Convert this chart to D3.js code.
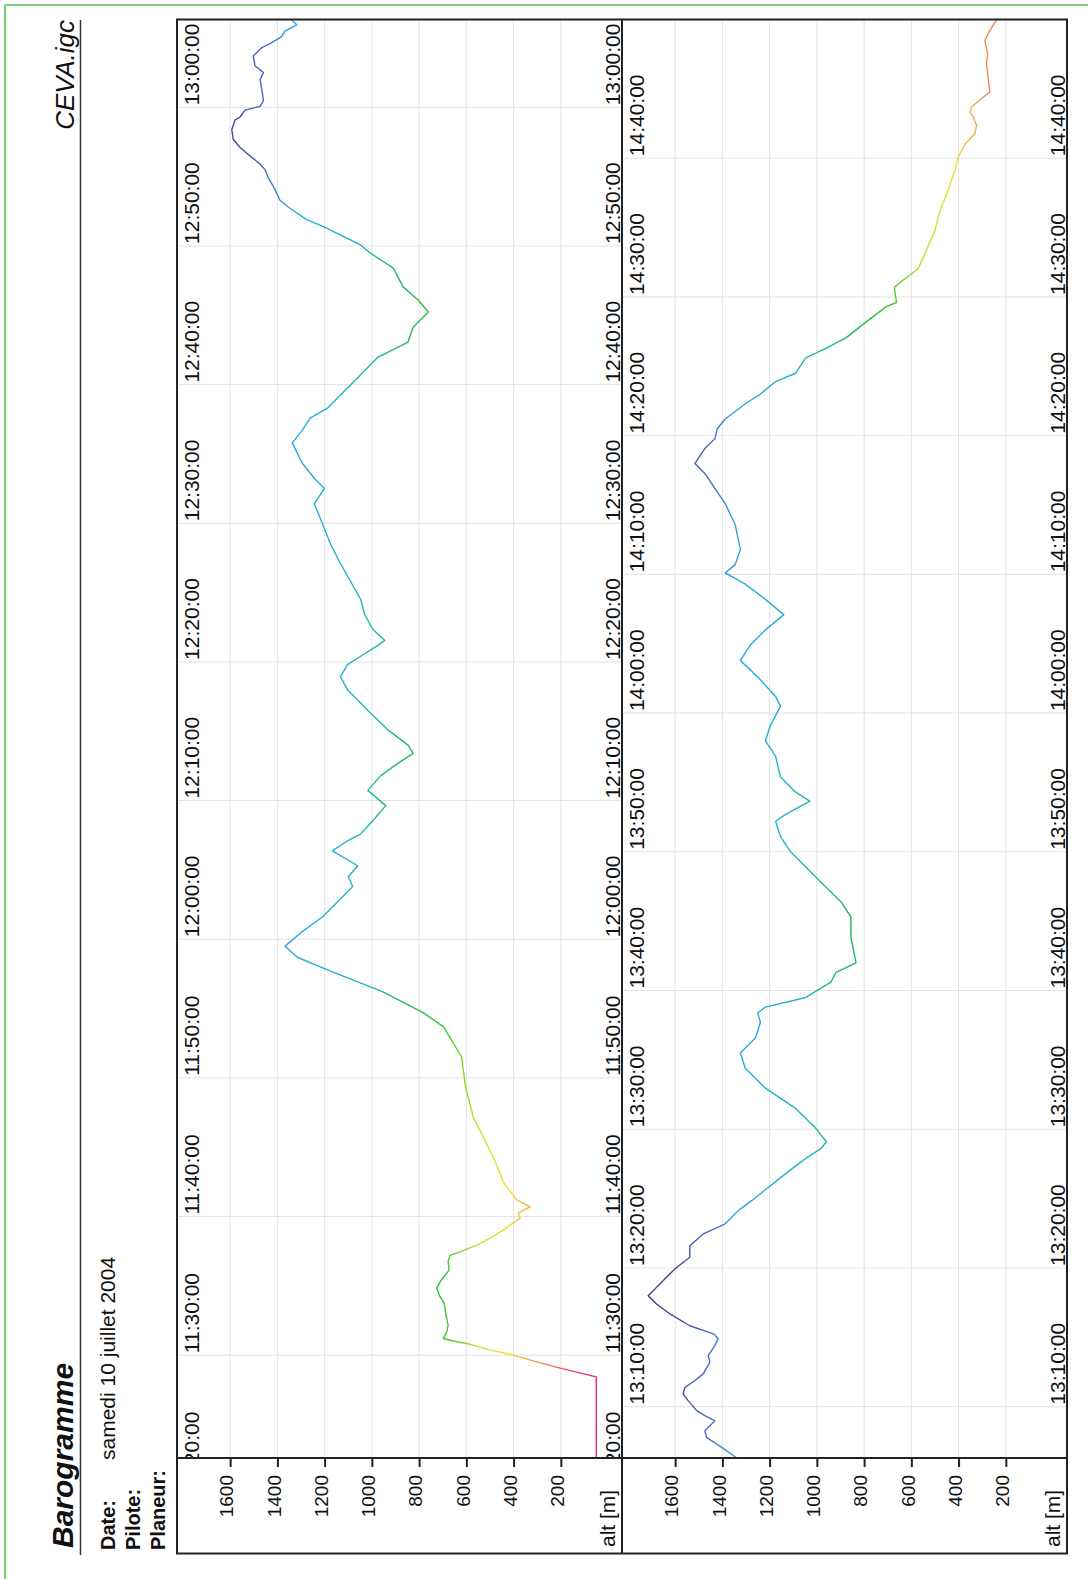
<!DOCTYPE html>
<html><head><meta charset="utf-8">
<script src="https://cdn.jsdelivr.net/npm/d3@7"></script>
<style>
html,body{margin:0;padding:0;background:#fff;}
svg{display:block;}
text{font-family:"Liberation Sans",Arial,sans-serif;fill:#111;}
</style></head><body>
<svg id="c" width="1088" height="1579"></svg>
<script>
// ---------- data ----------
const titleText = "Barogramme";
const fileName = "CEVA.igc";
const infoLabels = ["Date:", "Pilote:", "Planeur:"];
const infoValues = ["samedi 10 juillet 2004", "", ""];
const altTicks = [200, 400, 600, 800, 1000, 1200, 1400, 1600];
const altLabel = "alt [m]";
const flightDate = "2004-07-10";
const panelStarts = ["11:22:35", "13:06:18"];
const panelEnds = ["13:06:20", "14:50:00"];

const times = [
"11:22:35","11:28:26","11:29:04","11:29:31","11:30:04","11:30:22","11:30:47","11:30:58","11:31:12","11:31:41",
"11:32:10","11:32:53","11:33:45","11:34:12","11:34:50","11:35:17","11:35:46","11:36:08","11:36:44","11:37:12",
"11:37:27","11:37:56","11:38:26","11:39:01","11:39:23","11:39:53","11:40:15","11:40:42","11:41:11","11:42:24",
"11:44:12","11:45:42","11:47:06","11:49:18","11:51:30","11:53:42","11:54:42","11:56:12","11:57:39","11:58:42",
"11:59:30","12:00:33","12:01:36","12:02:42","12:03:48","12:04:30","12:05:18","12:06:22","12:07:06","12:07:36",
"12:08:33","12:09:38","12:10:44","12:11:48","12:12:42","12:13:24","12:14:00","12:15:06","12:16:30","12:18:00",
"12:18:56","12:19:48","12:20:30","12:21:03","12:21:33","12:22:21","12:23:24","12:24:30","12:25:48","12:27:06",
"12:28:30","12:30:21","12:31:24","12:32:30","12:33:15","12:34:21","12:35:48","12:36:42","12:37:36","12:38:18",
"12:39:24","12:40:30","12:41:58","12:42:42","12:43:04","12:44:09","12:45:14","12:46:06","12:47:03","12:48:24",
"12:49:30","12:50:06","12:51:24","12:51:54","12:52:42","12:53:18","12:54:18","12:54:54","12:55:30","12:55:54",
"12:56:30","12:57:06","12:57:42","12:58:24","12:59:06","12:59:18","12:59:48","13:00:04","13:00:30","13:01:18",
"13:02:00","13:02:30","13:03:00","13:03:42","13:04:18","13:04:36","13:05:06","13:05:30","13:05:57","13:06:18",
"13:07:04","13:07:47","13:08:16","13:08:30","13:08:59","13:09:21","13:09:43","13:10:26","13:10:55","13:11:23",
"13:11:52","13:12:22","13:13:12","13:13:41","13:14:24","13:14:53","13:15:14","13:15:50","13:16:41","13:17:24",
"13:18:00","13:18:36","13:19:12","13:19:56","13:20:46","13:21:36","13:22:27","13:23:10","13:23:32","13:24:08",
"13:24:51","13:26:48","13:27:54","13:28:36","13:29:06","13:30:04","13:31:30","13:32:58","13:34:24","13:35:30",
"13:36:36","13:37:42","13:38:24","13:38:48","13:39:30","13:40:36","13:41:18","13:42:00","13:43:51","13:45:18",
"13:46:24","13:47:48","13:48:54","13:50:00","13:51:06","13:52:12","13:52:42","13:53:39","13:54:18","13:55:24",
"13:56:54","13:58:00","13:59:06","14:00:30","14:01:12","14:02:24","14:03:48","14:04:54","14:06:00","14:07:06",
"14:08:12","14:09:18","14:10:06","14:10:42","14:11:48","14:13:36","14:15:06","14:17:15","14:18:00","14:19:06",
"14:19:48","14:20:30","14:21:12","14:22:18","14:23:00","14:23:54","14:24:30","14:25:36","14:26:18","14:27:03",
"14:28:12","14:29:18","14:29:36","14:30:42","14:31:06","14:32:02","14:33:06","14:34:48","14:36:12","14:37:42",
"14:39:06","14:40:04","14:41:00","14:41:46","14:42:22","14:42:58","14:43:18","14:43:42","14:44:18","14:44:46",
"14:45:50","14:46:48","14:47:30","14:48:30","14:49:12","14:50:00"
];
const alts = [
50,50,203,302,415,499,584,640,697,683,
677,686,694,711,725,711,690,673,677,669,
626,556,499,444,415,372,381,330,386,441,
484,527,569,603,620,697,783,953,1167,1316,
1367,1295,1209,1145,1081,1100,1060,1167,1103,1047,
996,941,1017,962,889,825,847,932,1017,1103,
1133,1103,1039,988,945,996,1030,1047,1090,1133,
1175,1218,1244,1201,1244,1295,1337,1295,1260,1188,
1124,1060,975,889,847,825,761,804,868,909,
1008,1050,1205,1276,1346,1389,1417,1438,1452,1473,
1516,1558,1587,1593,1579,1558,1537,1473,1459,1466,
1473,1459,1495,1502,1466,1431,1382,1368,1318,1339,
1403,1467,1474,1460,1432,1474,1509,1545,1566,1559,
1517,1481,1453,1460,1432,1418,1435,1538,1622,1679,
1714,1679,1644,1601,1538,1538,1481,1390,1368,1333,
1276,1132,1047,983,960,1004,1090,1218,1303,1324,
1260,1239,1250,1218,1047,941,919,834,856,856,
898,983,1047,1111,1154,1175,1132,1030,1090,1154,
1175,1218,1197,1154,1175,1239,1324,1282,1218,1140,
1218,1303,1388,1346,1324,1346,1388,1473,1516,1473,
1431,1422,1388,1303,1239,1175,1090,1047,962,877,
791,706,663,672,643,571,543,500,479,444,
416,402,373,331,324,338,352,345,303,268,
275,282,277,289,268,239
];

// colour of the trace by altitude
const colorAlts = [0, 150, 250, 330, 420, 550, 700, 850, 1000, 1200, 1330, 1450, 1600, 1750];
const colorHex = ["#e0206e","#ec4560","#f27a52","#f7a84a","#eee232","#c6e034","#34c234","#22b862","#22b8a8","#22b0d8","#32a6e6","#4a6cc8","#4548a0","#3c3090"];

// ---------- layout ----------
const W = 1088, H = 1579;
const plotTop = 19.5, plotBottom = 1458, frameBottom = 1553.5;
const panelLefts = [177, 622];
const panelW = 445;

const svg = d3.select("#c");
const parseT = d3.timeParse("%Y-%m-%d %H:%M:%S");
const toDate = s => parseT(flightDate + " " + s);
const fmt = d3.timeFormat("%H:%M:%S");
const data = times.map((t, i) => ({t: toDate(t), a: alts[i]}));

// page border (green, left & top)
svg.append("line").attr("x1",5).attr("y1",5).attr("x2",5).attr("y2",H).attr("stroke","#7acb7e").attr("stroke-width",2.2);
svg.append("line").attr("x1",5).attr("y1",5).attr("x2",W).attr("y2",5).attr("stroke","#7acb7e").attr("stroke-width",2.2);

// header (rotated)
function rtext(x, y, txt, opts) {
  const t = svg.append("text").attr("transform", `translate(${x},${y}) rotate(-90)`).text(txt);
  Object.entries(opts || {}).forEach(([k, v]) => t.attr(k, v));
  return t;
}
rtext(73, 1548, titleText, {"font-size": 30, "font-weight": "bold", "font-style": "italic", "fill": "#1a1a2a"});
rtext(74, 20, fileName, {"font-size": 26, "font-style": "italic", "text-anchor": "end", "fill": "#1a1a2a"});
svg.append("line").attr("x1",80.5).attr("x2",80.5).attr("y1",20).attr("y2",1555).attr("stroke","#333").attr("stroke-width",1.5);
infoLabels.forEach((l, i) => {
  rtext(115 + i * 25, 1550, l, {"font-size": 20, "font-weight": "bold"});
  if (infoValues[i]) rtext(115 + i * 25, 1460, infoValues[i], {"font-size": 21});
});

// gradient (shared in panel-local coordinates)
const x = d3.scaleLinear().domain([-59, 1825]).range([panelW, 0]);
const defs = svg.append("defs");
const grad = defs.append("linearGradient").attr("id","altGrad").attr("gradientUnits","userSpaceOnUse")
  .attr("x1", x(0)).attr("x2", x(1750)).attr("y1", 0).attr("y2", 0);
colorAlts.forEach((a, i) => grad.append("stop").attr("offset", a / 1750).attr("stop-color", colorHex[i]));

panelLefts.forEach((left, p) => {
  const y = d3.scaleTime().domain([toDate(panelStarts[p]), toDate(panelEnds[p])]).range([plotBottom, plotTop]);
  const cid = "clip" + p;
  defs.append("clipPath").attr("id", cid).append("rect")
    .attr("x", 0).attr("y", plotTop).attr("width", panelW).attr("height", plotBottom - plotTop);
  const g = svg.append("g").attr("transform", `translate(${left},0)`);
  const inner = g.append("g").attr("clip-path", `url(#${cid})`);

  // grid
  inner.selectAll(".va").data(altTicks).join("line")
    .attr("x1", d => x(d)).attr("x2", d => x(d)).attr("y1", plotTop).attr("y2", plotBottom)
    .attr("stroke", "#e3e3e3").attr("stroke-width", 1);
  const tt = d3.timeMinute.every(10).range(d3.timeMinute.offset(y.domain()[0], -12), d3.timeMinute.offset(y.domain()[1], 1));
  inner.selectAll(".ht").data(tt).join("line")
    .attr("x1", 0).attr("x2", panelW).attr("y1", d => y(d)).attr("y2", d => y(d))
    .attr("stroke", "#e3e3e3").attr("stroke-width", 1);

  // trace
  const line = d3.line().x(d => x(d.a)).y(d => y(d.t));
  inner.append("path").datum(data).attr("d", line).attr("fill", "none")
    .attr("stroke", "url(#altGrad)").attr("stroke-width", 1.4).attr("stroke-linejoin", "round");

  // time labels (both sides); only those whose start lies inside the plot
  const lt = tt.filter(d => y(d) - 2 > plotTop + 10);
  [22, panelW - 2].forEach(bx => {
    inner.selectAll(null).data(lt).join("text")
      .attr("transform", d => `translate(${bx},${y(d) - 2}) rotate(-90)`)
      .attr("font-size", 21).text(d => fmt(d));
  });

  // altitude axis
  const ax = g.append("g").attr("transform", `translate(0,${plotBottom})`)
    .call(d3.axisBottom(x).tickValues(altTicks).tickSize(9).tickFormat(d3.format("d")));
  ax.select(".domain").remove();
  ax.selectAll(".tick line").attr("stroke", "#222").attr("stroke-width", 2);
  ax.selectAll(".tick text").attr("x", null).attr("y", null).attr("dy", "0.35em")
    .attr("transform", "translate(-4,17) rotate(-90)").attr("text-anchor", "end")
    .attr("font-size", 19).attr("font-family", '"Liberation Sans",Arial,sans-serif').attr("fill", "#111");

  g.append("text").attr("transform", `translate(${panelW - 7},1547) rotate(-90)`).attr("font-size", 21).text(altLabel);
});

// frame
svg.append("rect").attr("x", 177).attr("y", plotTop).attr("width", 890).attr("height", frameBottom - plotTop)
  .attr("fill", "none").attr("stroke", "#222").attr("stroke-width", 2);
svg.append("line").attr("x1", 622).attr("x2", 622).attr("y1", plotTop).attr("y2", frameBottom).attr("stroke", "#222").attr("stroke-width", 2);
svg.append("line").attr("x1", 177).attr("x2", 1067).attr("y1", plotBottom).attr("y2", plotBottom).attr("stroke", "#222").attr("stroke-width", 2);
</script></body></html>
